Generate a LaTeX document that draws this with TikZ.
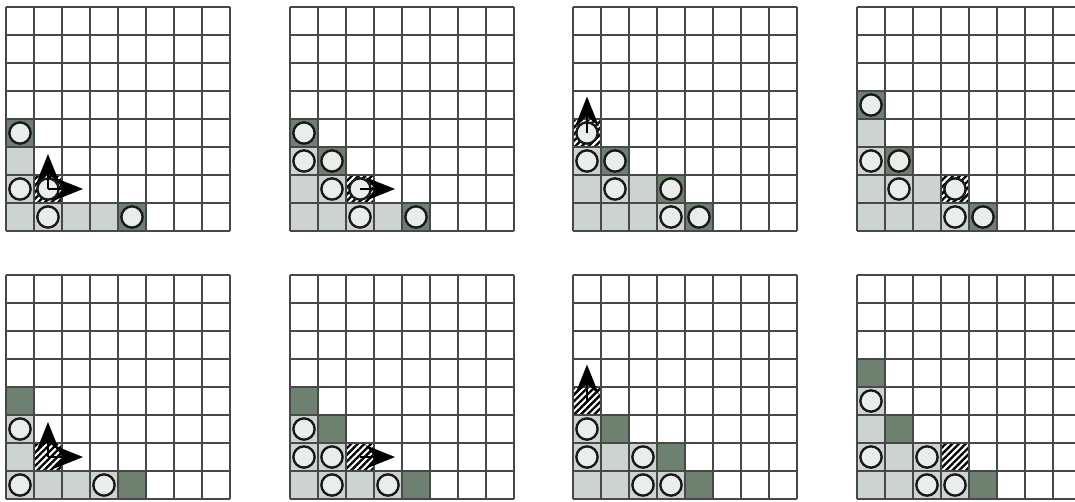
\documentclass[tikz,border=0pt]{standalone}
\usepackage{xcolor}
\usepackage{tikz}
\usetikzlibrary{arrows.meta,patterns.meta}
\definecolor{litegray}{RGB}{204,211,208}
\definecolor{darkgreen}{RGB}{110,128,112}
\definecolor{tokenfill}{RGB}{233,237,236}
\definecolor{gridgray}{RGB}{72,72,72}

\begin{document}
\begin{tikzpicture}[
  x=0.5cm, y=0.5cm,
  litecell/.style={fill=litegray},
  darkcell/.style={fill=darkgreen},
  hatchcell/.style={pattern={Lines[angle=45,distance=2.4pt,line width=1.2pt]}},
  cellgrid/.style={draw=gridgray, line width=0.85pt, step=1},
  token/.style={circle, draw=black!90, line width=1.2pt, fill=tokenfill, minimum size=0.38cm, inner sep=0pt},
  move/.style={-{Stealth[length=15pt,width=12pt,inset=5pt]}, line width=0.9pt}
]
\useasboundingbox (0,0) rectangle (38.393,17.893);
\clip (0,0) rectangle (38.393,17.893);

% top row
\begin{scope}[shift={(0.214,9.643)}]
  \foreach \c/\r in {0/2,0/1,0/0,1/0,2/0,3/0} \fill[litecell] (\c,\r) rectangle ++(1,1);
  \foreach \c/\r in {0/3,4/0} \fill[darkcell] (\c,\r) rectangle ++(1,1);
  \fill[hatchcell] (1,1) rectangle ++(1,1);
  \draw[cellgrid] (0,0) grid (8,8);
  \foreach \c/\r in {0/3,0/1,1/1,1/0,4/0} \node[token] (a\c\r) at (\c+.5,\r+.5) {};
  \coordinate (h1) at (1.5,1.5);
  \coordinate (h1n) at (1.5,2.75);
  \coordinate (h1e) at (2.75,1.5);
  \draw[move] (h1) -- (h1n);
  \draw[move] (h1) -- (h1e);
\end{scope}

\begin{scope}[shift={(10.357,9.643)}]
  \foreach \c/\r in {0/2,0/1,1/1,0/0,1/0,2/0,3/0} \fill[litecell] (\c,\r) rectangle ++(1,1);
  \foreach \c/\r in {0/3,1/2,4/0} \fill[darkcell] (\c,\r) rectangle ++(1,1);
  \fill[hatchcell] (2,1) rectangle ++(1,1);
  \draw[cellgrid] (0,0) grid (8,8);
  \foreach \c/\r in {0/3,0/2,1/2,1/1,2/1,2/0,4/0} \node[token] (b\c\r) at (\c+.5,\r+.5) {};
  \coordinate (h2) at (2.5,1.5);
  \coordinate (h2e) at (3.75,1.5);
  \draw[move] (h2) -- (h2e);
\end{scope}

\begin{scope}[shift={(20.464,9.643)}]
  \foreach \c/\r in {0/2,0/1,1/1,2/1,0/0,1/0,2/0,3/0} \fill[litecell] (\c,\r) rectangle ++(1,1);
  \foreach \c/\r in {1/2,3/1,4/0} \fill[darkcell] (\c,\r) rectangle ++(1,1);
  \fill[hatchcell] (0,3) rectangle ++(1,1);
  \draw[cellgrid] (0,0) grid (8,8);
  \foreach \c/\r in {0/3,0/2,1/2,1/1,3/1,3/0,4/0} \node[token] (c\c\r) at (\c+.5,\r+.5) {};
  \coordinate (h3) at (0.5,3.5);
  \coordinate (h3n) at (0.5,4.8);
  \draw[move] (h3) -- (h3n);
\end{scope}

\begin{scope}[shift={(30.607,9.643)}]
  \foreach \c/\r in {0/3,0/2,0/1,1/1,2/1,0/0,1/0,2/0,3/0} \fill[litecell] (\c,\r) rectangle ++(1,1);
  \foreach \c/\r in {0/4,1/2,4/0} \fill[darkcell] (\c,\r) rectangle ++(1,1);
  \fill[hatchcell] (3,1) rectangle ++(1,1);
  \draw[cellgrid] (0,0) grid (8,8);
  \foreach \c/\r in {0/4,0/2,1/2,1/1,3/1,3/0,4/0} \node[token] (d\c\r) at (\c+.5,\r+.5) {};
\end{scope}

% bottom row
\begin{scope}[shift={(0.214,0.071)}]
  \foreach \c/\r in {0/2,0/1,0/0,1/0,2/0,3/0} \fill[litecell] (\c,\r) rectangle ++(1,1);
  \foreach \c/\r in {0/3,4/0} \fill[darkcell] (\c,\r) rectangle ++(1,1);
  \fill[hatchcell] (1,1) rectangle ++(1,1);
  \draw[cellgrid] (0,0) grid (8,8);
  \foreach \c/\r in {0/2,0/0,3/0} \node[token] (e\c\r) at (\c+.5,\r+.5) {};
  \coordinate (h5) at (1.5,1.5);
  \coordinate (h5n) at (1.5,2.75);
  \coordinate (h5e) at (2.75,1.5);
  \draw[move] (h5) -- (h5n);
  \draw[move] (h5) -- (h5e);
\end{scope}

\begin{scope}[shift={(10.357,0.071)}]
  \foreach \c/\r in {0/2,0/1,1/1,0/0,1/0,2/0,3/0} \fill[litecell] (\c,\r) rectangle ++(1,1);
  \foreach \c/\r in {0/3,1/2,4/0} \fill[darkcell] (\c,\r) rectangle ++(1,1);
  \fill[hatchcell] (2,1) rectangle ++(1,1);
  \draw[cellgrid] (0,0) grid (8,8);
  \foreach \c/\r in {0/2,0/1,1/1,1/0,3/0} \node[token] (f\c\r) at (\c+.5,\r+.5) {};
  \coordinate (h6) at (2.5,1.5);
  \coordinate (h6e) at (3.75,1.5);
  \draw[move] (h6) -- (h6e);
\end{scope}

\begin{scope}[shift={(20.464,0.071)}]
  \foreach \c/\r in {0/2,0/1,1/1,2/1,0/0,1/0,2/0,3/0} \fill[litecell] (\c,\r) rectangle ++(1,1);
  \foreach \c/\r in {1/2,3/1,4/0} \fill[darkcell] (\c,\r) rectangle ++(1,1);
  \fill[hatchcell] (0,3) rectangle ++(1,1);
  \draw[cellgrid] (0,0) grid (8,8);
  \foreach \c/\r in {0/2,0/1,2/1,2/0,3/0} \node[token] (g\c\r) at (\c+.5,\r+.5) {};
  \coordinate (h7) at (0.5,3.5);
  \coordinate (h7n) at (0.5,4.8);
  \draw[move] (h7) -- (h7n);
\end{scope}

\begin{scope}[shift={(30.607,0.071)}]
  \foreach \c/\r in {0/3,0/2,0/1,1/1,2/1,0/0,1/0,2/0,3/0} \fill[litecell] (\c,\r) rectangle ++(1,1);
  \foreach \c/\r in {0/4,1/2,4/0} \fill[darkcell] (\c,\r) rectangle ++(1,1);
  \fill[hatchcell] (3,1) rectangle ++(1,1);
  \draw[cellgrid] (0,0) grid (8,8);
  \foreach \c/\r in {0/3,0/1,2/1,2/0,3/0} \node[token] (k\c\r) at (\c+.5,\r+.5) {};
\end{scope}
\end{tikzpicture}
\end{document}
